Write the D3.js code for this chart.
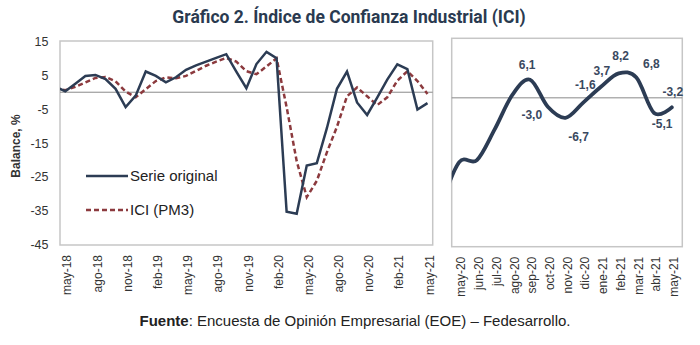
<!DOCTYPE html>
<html>
<head>
<meta charset="utf-8">
<script src="https://cdn.jsdelivr.net/npm/d3@7"></script>
<style>
  body { margin: 0; background: #fff; }
  svg { display: block; font-family: 'Liberation Sans', Arial, sans-serif; }
</style>
</head>
<body>
<svg id="chart" width="700" height="345"></svg>
<script>
// monthly categories (the first one sits just outside the frame and gets clipped)
const months = [
  'abr-18', 'may-18', 'jun-18', 'jul-18', 'ago-18', 'sep-18', 'oct-18', 'nov-18', 'dic-18',
  'ene-19', 'feb-19', 'mar-19', 'abr-19', 'may-19', 'jun-19', 'jul-19', 'ago-19', 'sep-19',
  'oct-19', 'nov-19', 'dic-19', 'ene-20', 'feb-20', 'mar-20', 'abr-20', 'may-20', 'jun-20',
  'jul-20', 'ago-20', 'sep-20', 'oct-20', 'nov-20', 'dic-20', 'ene-21', 'feb-21', 'mar-21',
  'abr-21', 'may-21',
];

// balance, %
const serieOriginal = [
  1.6, 0.3, 2.5, 4.8, 5.1, 3.9, 1.0, -4.4, -1.0,
  6.1, 4.8, 2.9, 4.4, 6.6, 7.9, 9.0, 10.1, 11.2,
  6.1, 1.2, 8.3, 11.9, 10.0, -35.2, -35.8, -21.6, -20.9,
  -10.6, 1.0, 6.1, -3.0, -6.7, -1.6, 3.7, 8.2, 6.8,
  -5.1, -3.2,
];

const iciPm3 = [
  1.2, 0.6, 1.6, 2.9, 4.2, 4.5, 3.2, 0.2, -1.5,
  0.9, 3.3, 4.4, 4.1, 4.8, 6.3, 7.8, 9.0, 10.1,
  9.0, 6.2, 5.3, 7.6, 10.0, -4.4, -20.3, -30.9, -26.1,
  -17.7, -10.2, -1.2, 1.4, -1.2, -3.8, -1.5, 3.4, 6.2,
  3.3, -0.5,
];

const leftTicks = ['may-18', 'ago-18', 'nov-18', 'feb-19', 'may-19', 'ago-19', 'nov-19',
  'feb-20', 'may-20', 'ago-20', 'nov-20', 'feb-21', 'may-21'];
const yTicks = [15, 5, -5, -15, -25, -35, -45];

// zoomed panel: last year, smoothed
const zoomMonths = months.slice(months.indexOf('abr-20'));
const zoomTicks = zoomMonths.slice(1);
const labelledMonths = ['sep-20', 'oct-20', 'nov-20', 'dic-20', 'ene-21', 'feb-21', 'mar-21', 'abr-21', 'may-21'];
// where each value label sits relative to its point
const labelOffsets = [[-3, -15], [-16, 8], [13, 19], [2, -18], [1, -16], [2, -18], [15, -14], [8, 11], [1, -16]];

const navy = '#2c3c54';
const red = '#8c3a3e';
const frameColor = '#c6c6c6';

const svg = d3.select('#chart');
const fmt = (v) => v.toFixed(1).replace('.', ',');

svg.append('text')
  .attr('x', 349)
  .attr('y', 22.5)
  .attr('text-anchor', 'middle')
  .style('font-family', 'Roboto')
  .style('font-weight', 'bold')
  .style('font-size', '17.5px')
  .attr('fill', '#2a3a50')
  .text('Gráfico 2. Índice de Confianza Industrial (ICI)');

const defs = svg.append('defs');

function panel(id, box) {
  defs.append('clipPath').attr('id', id)
    .append('rect')
    .attr('x', box.x0).attr('y', box.y0)
    .attr('width', box.x1 - box.x0).attr('height', box.y1 - box.y0);
  const g = svg.append('g');
  g.append('rect')
    .attr('x', box.x0).attr('y', box.y0)
    .attr('width', box.x1 - box.x0).attr('height', box.y1 - box.y0)
    .attr('fill', 'none')
    .attr('stroke', frameColor)
    .attr('stroke-width', 1.5);
  return g;
}

function monthAxis(g, x, ticks, y) {
  const ax = g.append('g')
    .attr('transform', `translate(0,${y})`)
    .call(d3.axisBottom(x).tickValues(ticks).tickSize(0));
  ax.select('.domain').remove();
  ax.selectAll('text')
    .attr('transform', 'rotate(-90)')
    .attr('text-anchor', 'end')
    .attr('x', -10)
    .attr('y', 0)
    .attr('dy', '0.47em')
    .style('font-family', "'Liberation Sans', Arial, sans-serif")
    .style('font-size', '12px')
    .attr('fill', '#333');
}

// ---- left panel: full history ----
const L = { x0: 60, x1: 432.7, y0: 41, y1: 245 };
const xL = d3.scalePoint().domain(months).range([55.2, 427.5]);
const yL = d3.scaleLinear().domain([-45, 15]).range([245, 41.3]);
const gL = panel('clipL', L);

gL.append('line')
  .attr('x1', L.x0).attr('x2', L.x1)
  .attr('y1', yL(0)).attr('y2', yL(0))
  .attr('stroke', '#8a8a8a').attr('stroke-width', 1);

gL.selectAll('.ytick')
  .data(yTicks)
  .enter()
  .append('text')
  .attr('x', 48.5)
  .attr('y', (d) => yL(d))
  .attr('dy', '0.35em')
  .attr('text-anchor', 'end')
  .style('font-size', '12.5px')
  .attr('fill', '#333')
  .text((d) => d);

svg.append('text')
  .attr('transform', 'translate(20,146) rotate(-90)')
  .attr('text-anchor', 'middle')
  .style('font-weight', 'bold')
  .style('font-size', '12px')
  .attr('fill', '#333')
  .text('Balance, %');

const lineL = (vals) => d3.line()
  .x((d, i) => xL(months[i]))
  .y((d) => yL(d))(vals);

const plotL = gL.append('g').attr('clip-path', 'url(#clipL)');
plotL.append('path')
  .attr('d', lineL(iciPm3))
  .attr('fill', 'none')
  .attr('stroke', red)
  .attr('stroke-width', 2.5)
  .attr('stroke-dasharray', '5,3');
plotL.append('path')
  .attr('d', lineL(serieOriginal))
  .attr('fill', 'none')
  .attr('stroke', navy)
  .attr('stroke-width', 2.5)
  .attr('stroke-linejoin', 'miter');

// legend
const legend = [
  { name: 'Serie original', color: navy, dash: null, y: 176 },
  { name: 'ICI (PM3)', color: red, dash: '5,3', y: 210 },
];
legend.forEach((d) => {
  gL.append('line')
    .attr('x1', 86).attr('x2', 128)
    .attr('y1', d.y).attr('y2', d.y)
    .attr('stroke', d.color)
    .attr('stroke-width', 2.5)
    .attr('stroke-dasharray', d.dash);
  gL.append('text')
    .attr('x', 130)
    .attr('y', d.y)
    .attr('dy', '0.36em')
    .style('font-size', '15px')
    .attr('fill', '#222')
    .text(d.name);
});

monthAxis(gL, xL, leftTicks, L.y1);

// ---- right panel: last year, smoothed with value labels ----
const R = { x0: 451.7, x1: 682.3, y0: 38.3, y1: 246.7 };
const xR = d3.scalePoint().domain(zoomMonths).range([441.5, 671.8]);
const yR = d3.scaleLinear().domain([-50, 20]).range([246.7, 38.3]);
const gR = panel('clipR', R);
const zoomValues = zoomMonths.map((m) => serieOriginal[months.indexOf(m)]);

gR.append('line')
  .attr('x1', R.x0).attr('x2', R.x1)
  .attr('y1', yR(0)).attr('y2', yR(0))
  .attr('stroke', '#8a8a8a').attr('stroke-width', 1);

gR.append('g').attr('clip-path', 'url(#clipR)')
  .append('path')
  .attr('d', d3.line()
    .curve(d3.curveCardinal.tension(0))
    .x((d, i) => xR(zoomMonths[i]))
    .y((d) => yR(d))(zoomValues))
  .attr('fill', 'none')
  .attr('stroke', navy)
  .attr('stroke-width', 3.8)
  .attr('stroke-linecap', 'round');

gR.selectAll('.vlabel')
  .data(labelledMonths)
  .enter()
  .append('text')
  .attr('x', (m, i) => xR(m) + labelOffsets[i][0])
  .attr('y', (m, i) => yR(serieOriginal[months.indexOf(m)]) + labelOffsets[i][1])
  .attr('dy', '0.35em')
  .attr('text-anchor', 'middle')
  .style('font-weight', 'bold')
  .style('font-size', '12px')
  .attr('fill', '#3a4960')
  .text((m) => fmt(serieOriginal[months.indexOf(m)]));

monthAxis(gR, xR, zoomTicks, R.y1);

// ---- source note ----
const note = svg.append('text')
  .attr('x', 355)
  .attr('y', 326)
  .attr('text-anchor', 'middle')
  .style('font-size', '15px')
  .attr('fill', '#222');
note.append('tspan').style('font-weight', 'bold').text('Fuente');
note.append('tspan').text(': Encuesta de Opinión Empresarial (EOE) – Fedesarrollo.');
</script>
</body>
</html>
